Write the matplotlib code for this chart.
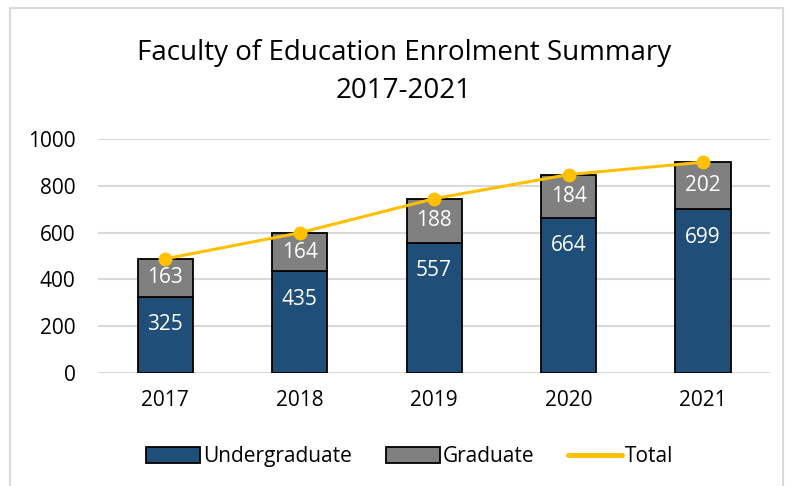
import numpy as np
from matplotlib import pyplot as plt
from matplotlib.patches import Rectangle, Patch
from matplotlib.lines import Line2D

years = ['2017', '2018', '2019', '2020', '2021']
undergrad = np.array([325, 435, 557, 664, 699])
grad = np.array([163, 164, 188, 184, 202])
total = undergrad + grad

plt.rcParams['font.family'] = ['Open Sans', 'DejaVu Sans']

fig = plt.figure(figsize=(7.9, 4.86), dpi=100)
ax = fig.add_axes([0.124, 0.2325, 0.851, 0.4815])

# cornice del grafico (bordo grigio chiaro)
fig.patches.append(Rectangle((10 / 790, -0.1), 773 / 790, 1.1 - 8 / 486,
                             transform=fig.transFigure, fill=False,
                             edgecolor='#D9D9D9', lw=1.5))

x = np.arange(len(years))
w = 0.41
ax.bar(x, undergrad, w, color='#1F4E79', edgecolor='black', lw=1.3, zorder=2)
ax.bar(x, grad, w, bottom=undergrad, color='#808080', edgecolor='black',
       lw=1.3, zorder=2)
ax.plot(x, total, color='#FFC000', lw=2.2, marker='o', ms=9, zorder=3)

for i in range(len(x)):
    ax.annotate(str(undergrad[i]), (x[i], undergrad[i]), xytext=(0, -28),
                textcoords='offset pixels', ha='center', va='center',
                color='white', fontsize=15)
    ax.text(x[i], undergrad[i] + grad[i] / 2, str(grad[i]), ha='center',
            va='center', color='white', fontsize=15)

ax.set_xlim(-0.5, 4.5)
ax.set_ylim(0, 1000)
ax.set_yticks(range(0, 1001, 200))
ax.set_xticks(x, years)
ax.tick_params(length=0, labelsize=15)
ax.tick_params(axis='y', pad=16)
ax.tick_params(axis='x', pad=12)
ax.grid(axis='y', color='#D9D9D9', lw=1.5, zorder=0)
ax.set_axisbelow(True)
for s in ax.spines.values():
    s.set_visible(False)

fig.text(0.511, 0.852, 'Faculty of Education Enrolment Summary\n2017-2021',
         ha='center', va='center', fontsize=20, linespacing=1.5)

handles = [Patch(facecolor='#1F4E79', edgecolor='black', lw=1.3),
           Patch(facecolor='#808080', edgecolor='black', lw=1.3),
           Line2D([], [], color='#FFC000', lw=3.5, solid_capstyle='round')]
fig.legend(handles, ['Undergraduate', 'Graduate', 'Total'], loc='center',
           bbox_to_anchor=(0.519, 0.06), ncol=3, frameon=False, fontsize=15,
           handlelength=2.6, handleheight=0.8, handletextpad=0.15,
           columnspacing=1.6)

plt.savefig('out.png')
